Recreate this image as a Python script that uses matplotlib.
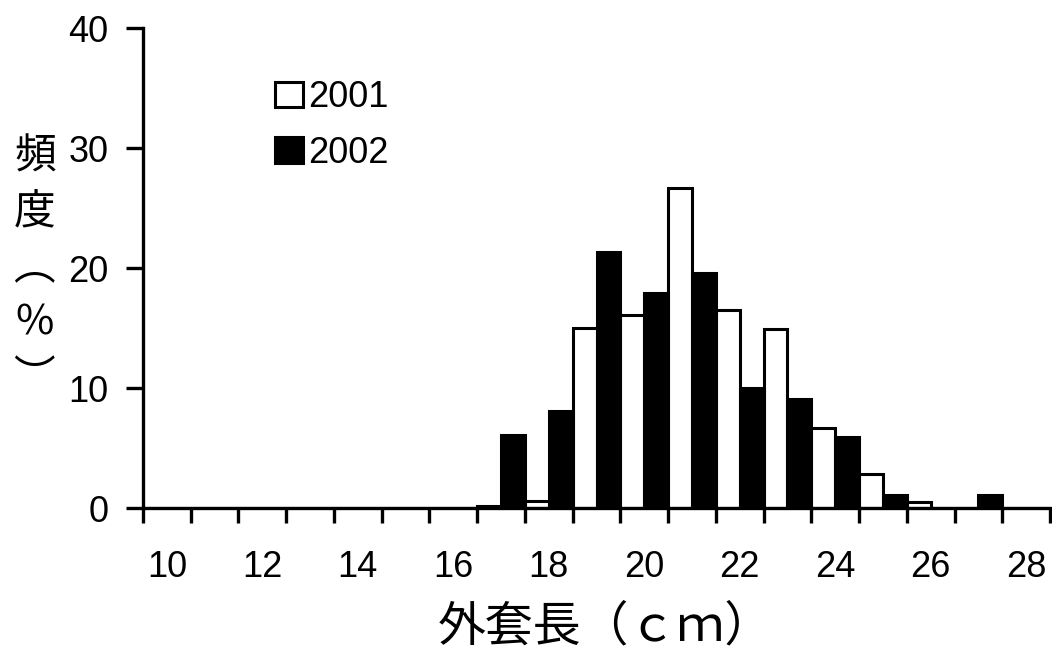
import numpy as np
from matplotlib import pyplot as plt

# 外套長 (cm) classes and frequency (%)
length_cm = [10, 11, 12, 13, 14, 15, 16, 17, 18, 19, 20, 21, 22, 23, 24, 25, 26, 27, 28]
freq_2001 = [0, 0, 0, 0, 0, 0, 0, 0.2, 0.6, 15.0, 16.1, 26.7, 16.5, 14.9, 6.7, 2.8, 0.5, 0, 0]
freq_2002 = [0, 0, 0, 0, 0, 0, 0, 6.1, 8.1, 21.3, 17.9, 19.6, 10.0, 9.1, 5.9, 1.1, 0, 1.1, 0]
tick_labels = ['10', '12', '14', '16', '18', '20', '22', '24', '26', '28']

plt.rcParams['font.family'] = ['Liberation Sans', 'Noto Sans CJK JP', 'DejaVu Sans']

fig = plt.figure(figsize=(10.52, 6.5), dpi=100)
ax = fig.add_axes([143 / 1052, 142 / 650, 907 / 1052, 480 / 650])

x = np.array(length_cm)
w = 0.5
ax.bar(x - w / 2, freq_2001, width=w, color='white', edgecolor='black', linewidth=2.2, label='2001')
ax.bar(x + w / 2, freq_2002, width=w, color='black', edgecolor='black', linewidth=2.2, label='2002')

ax.set_xlim(9.5, 28.5)
ax.set_ylim(0, 40)

for s in ['top', 'right']:
    ax.spines[s].set_visible(False)
for s in ['left', 'bottom']:
    ax.spines[s].set_linewidth(2.4)

ax.set_yticks([0, 10, 20, 30, 40])
ax.tick_params(axis='y', length=12, width=2.4, pad=13, labelsize=26)

ax.set_xticks([int(t) for t in tick_labels])
ax.set_xticklabels(tick_labels)
ax.set_xticks(np.arange(9.5, 28.6, 1), minor=True)
ax.tick_params(axis='x', which='major', length=0, pad=30, labelsize=26)
ax.tick_params(axis='x', which='minor', length=11, width=2.4)

fig.text(605 / 1052, 1 - 627 / 650, '外套長（ｃｍ）', ha='center', va='center',
         fontsize=34.5, family=['Noto Sans CJK JP', 'DejaVu Sans'])
fig.text(35 / 1052, 1 - 268 / 650, '頻\n度\n︵\n%\n︶', ha='center', va='center',
         fontsize=30, linespacing=1.45, family=['Noto Sans CJK JP', 'DejaVu Sans'])

leg = ax.legend(loc='upper left', bbox_to_anchor=(132 / 907, 1 - 52 / 480), frameon=False,
                fontsize=26, handlelength=0.78, handleheight=0.72, handletextpad=0.15,
                labelspacing=0.58, borderpad=0, borderaxespad=0)
for p in leg.get_patches():
    p.set_linewidth(2.2)

fig.savefig('out.png', dpi=100)
